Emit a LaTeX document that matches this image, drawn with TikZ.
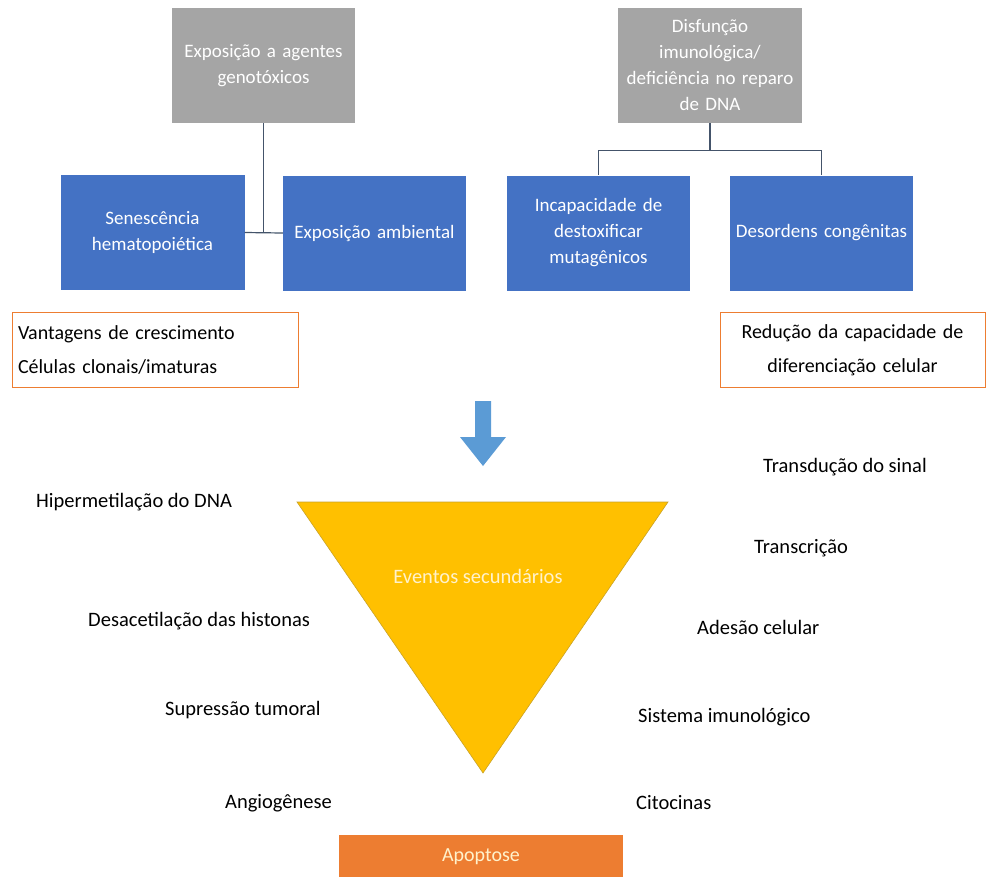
\documentclass[tikz,border=0pt]{standalone}
\usepackage{fontspec}
\setmainfont{Carlito}
\usetikzlibrary{positioning, calc}
\definecolor{boxBlue}{HTML}{4472C4}
\definecolor{boxGray}{HTML}{A5A5A5}
\definecolor{lineSlate}{HTML}{44546A}
\definecolor{outlineOrange}{HTML}{ED7D31}
\definecolor{fillOrange}{HTML}{ED7D31}
\definecolor{triYellow}{HTML}{FFC000}
\definecolor{triEdge}{HTML}{C9A227}
\definecolor{triText}{HTML}{FFF2CC}
\definecolor{arrowBlue}{HTML}{5B9BD5}
\tikzset{
  causeBox/.style={rectangle, fill=boxGray, text=white, align=center,
                   minimum width=183pt, minimum height=115pt, inner sep=4pt,
                   text width=170pt, font=\fontsize{19}{26}\selectfont},
  factorBox/.style={rectangle, fill=boxBlue, text=white, align=center,
                    minimum width=184pt, minimum height=115pt, inner sep=4pt,
                    text width=172pt, font=\fontsize{19}{26}\selectfont},
  noteBox/.style={rectangle, draw=outlineOrange, line width=0.8pt, fill=white,
                  minimum height=75pt, inner sep=6pt,
                  font=\fontsize{20}{34}\selectfont},
  eventLabel/.style={font=\fontsize{20.5}{24}\selectfont, inner sep=0pt},
  linkLine/.style={draw=lineSlate, line width=1.2pt},
}
\begin{document}
\begin{tikzpicture}[x=1pt, y=-1pt]
    \useasboundingbox (0,0) rectangle (995,876);
    % causas (cinza)
    \node[causeBox] (g1) at (263.5,65.5) {Exposição a agentes\\genotóxicos};
    \node[causeBox, minimum width=184pt] (g2) at (710,65.5)
      {Disfunção\\imunológica/\\deficiência no reparo\\de DNA};
    % fatores (azul)
    \node[factorBox] (b1) at (152.5,232.5) {Senescência\\hematopoiética};
    \node[factorBox, minimum width=183pt] (b2) at (374.5,233) {Exposição ambiental};
    \node[factorBox, minimum width=183pt] (b3) at (598.5,233)
      {Incapacidade de\\destoxificar\\mutagênicos};
    \node[factorBox, minimum width=183pt] (b4) at (821.5,233) {Desordens congênitas};
    % ligacoes
    \draw[linkLine] (g1.south) -- (g1.south |- b1.east);
    \draw[linkLine] (b1.east) -- (b2.west);
    \coordinate (jr) at ($(g2.south)+(0,27)$);
    \draw[linkLine] (g2.south) -- (jr);
    \draw[linkLine] (jr) -| (b3.north);
    \draw[linkLine] (jr) -| (b4.north);
    % notas
    \node[noteBox, minimum width=286pt, align=left, text width=274pt] (n1)
      at (155,350) {Vantagens de crescimento\\Células clonais/imaturas};
    \node[noteBox, minimum width=265pt, align=center, text width=253pt] (n2)
      at (852.5,350) {Redução da capacidade de\\diferenciação celular};
    % seta
    \fill[arrowBlue] (475,401) -- (491,401) -- (491,437) -- (506,437)
      -- (483,466) -- (460,437) -- (475,437) -- cycle;
    % triangulo
    \coordinate (tl) at (297,502);
    \coordinate (tr) at (668,502);
    \coordinate (tb) at (483,773);
    \filldraw[fill=triYellow, draw=triEdge, line width=0.6pt] (tl) -- (tr) -- (tb) -- cycle;
    \node[eventLabel, text=triText] (ev) at (478,576) {Eventos secundários};
    % eventos esquerda
    \node[eventLabel, anchor=west] (e1) at (36,502) {Hipermetilação do DNA};
    \node[eventLabel, anchor=west] (e2) at (88,621) {Desacetilação das histonas};
    \node[eventLabel, anchor=west] (e3) at (165,710) {Supressão tumoral};
    \node[eventLabel, anchor=west] (e4) at (225,803) {Angiogênese};
    % eventos direita
    \node[eventLabel, anchor=west] (d1) at (763,467) {Transdução do sinal};
    \node[eventLabel, anchor=west] (d2) at (754,548) {Transcrição};
    \node[eventLabel, anchor=west] (d3) at (697,627) {Adesão celular};
    \node[eventLabel, anchor=west] (d4) at (638,717) {Sistema imunológico};
    \node[eventLabel, anchor=west] (d5) at (636,803) {Citocinas};
    % apoptose
    \node[rectangle, fill=fillOrange, text=triText, minimum width=284pt,
          minimum height=44pt, font=\fontsize{20}{24}\selectfont]
          (ap) at (481,857) {Apoptose};
\end{tikzpicture}
\end{document}
